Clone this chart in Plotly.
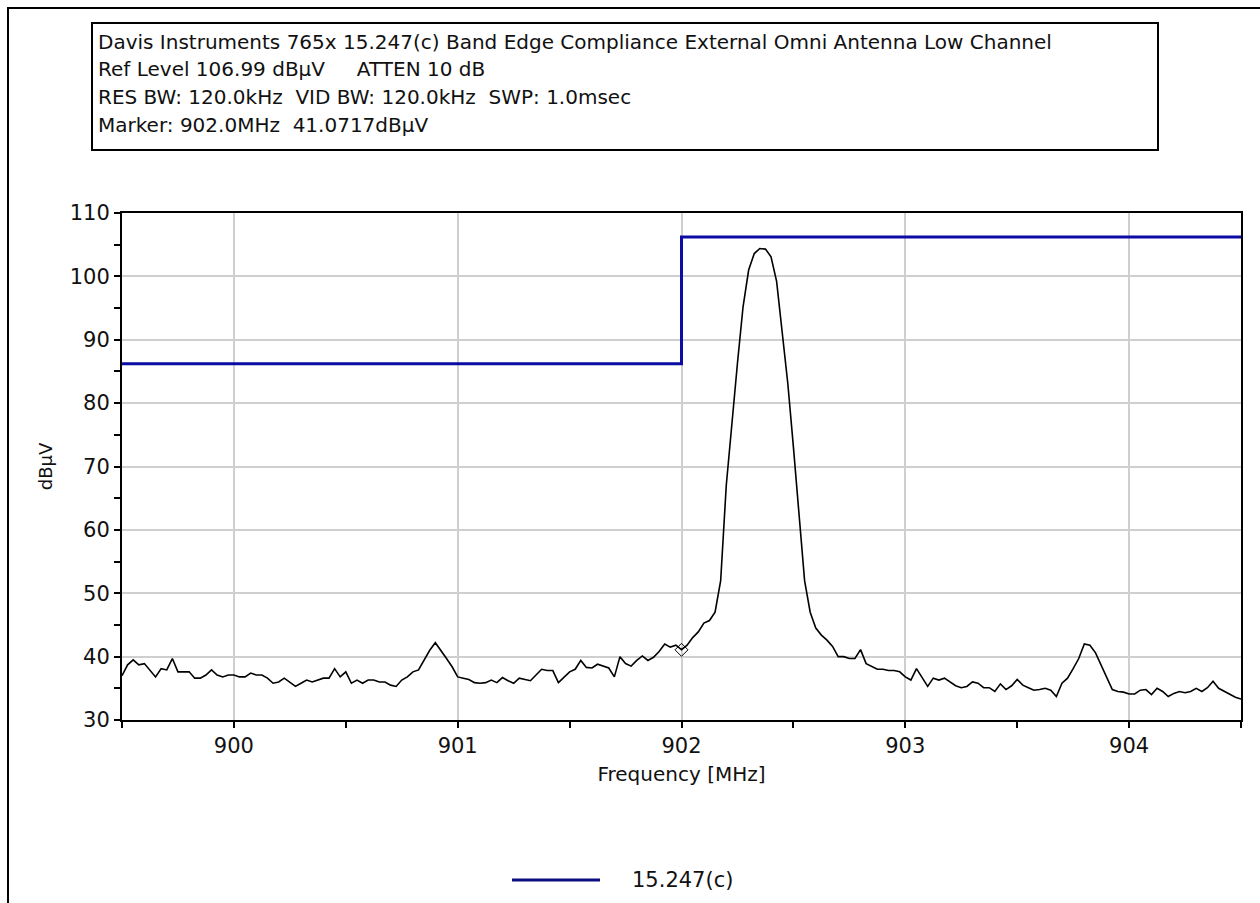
import numpy as np
import plotly.graph_objects as go

# ---------------- data ----------------
title_lines = [
    "Davis Instruments 765x 15.247(c) Band Edge Compliance External Omni Antenna Low Channel",
    "Ref Level 106.99 dBµV     ATTEN 10 dB",
    "RES BW: 120.0kHz  VID BW: 120.0kHz  SWP: 1.0msec",
    "Marker: 902.0MHz  41.0717dBµV",
]
x_title = "Frequency [MHz]"
y_title = "dBµV"
legend_name = "15.247(c)"

f_start, f_stop = 899.5, 904.5

# measured sweep (dBµV), 0.025 MHz spacing from 899.5 to 904.5
trace_vals = [
    37.0, 38.7, 39.5, 38.7, 38.9, 37.9, 36.8, 38.1, 37.9, 39.7,
    37.6, 37.6, 37.6, 36.6, 36.6, 37.1, 37.9, 37.1, 36.8, 37.1,
    37.1, 36.8, 36.8, 37.4, 37.1, 37.1, 36.6, 35.8, 36.0, 36.6,
    36.0, 35.3, 35.8, 36.3, 36.0, 36.3, 36.6, 36.6, 38.1, 36.8,
    37.6, 35.8, 36.3, 35.8, 36.3, 36.3, 36.0, 36.0, 35.5, 35.3,
    36.3, 36.8, 37.6, 37.9, 39.5, 41.0, 42.2, 41.0, 39.7, 38.4,
    36.8, 36.6, 36.4, 35.9, 35.8, 35.9, 36.3, 35.9, 36.7, 36.2,
    35.8, 36.6, 36.4, 36.2, 37.1, 38.0, 37.8, 37.8, 35.9, 36.8,
    37.6, 38.0, 39.4, 38.3, 38.2, 38.8, 38.5, 38.2, 36.8, 40.0,
    38.9, 38.5, 39.4, 40.1, 39.4, 39.9, 40.8, 42.0, 41.5, 41.8,
    41.1, 41.8, 43.0, 43.9, 45.3, 45.7, 47.0, 52.0, 67.0, 77.3,
    86.3, 95.2, 101.0, 103.6, 104.4, 104.3, 103.1, 99.2, 91.5, 83.1,
    73.1, 63.1, 52.0, 47.0, 44.5, 43.4, 42.6, 41.6, 40.0, 40.0,
    39.7, 39.7, 41.1, 38.9, 38.5, 38.0, 38.0, 37.8, 37.8, 37.6,
    36.8, 36.3, 38.1, 36.6, 35.3, 36.6, 36.3, 36.6, 36.0, 35.4,
    35.1, 35.3, 36.0, 35.8, 35.1, 35.1, 34.5, 35.7, 34.8, 35.4,
    36.4, 35.5, 35.1, 34.7, 34.8, 35.0, 34.7, 33.7, 35.8, 36.6,
    38.1, 39.7, 42.0, 41.8, 40.6, 38.7, 36.6, 34.8, 34.5, 34.4,
    34.1, 34.1, 34.7, 34.8, 34.0, 35.0, 34.5, 33.7, 34.2, 34.5,
    34.3, 34.5, 35.0, 34.5, 35.1, 36.1, 35.0, 34.5, 34.0, 33.6,
    33.3,
]
freqs = np.linspace(f_start, f_stop, len(trace_vals))

# 15.247(c) limit line
limit_f = [899.5, 902.0, 902.0, 904.5]
limit_v = [86.2, 86.2, 106.2, 106.2]

marker_f = [902.0]
marker_v = [41.0717]

x_range = [899.5, 904.5]
y_range = [30, 110]

# ---------------- figure ----------------
FONT = "DejaVu Sans"
L, R, T, B = 122, 19, 213, 183
W, H = 1260, 903
PW, PH = W - L - R, H - T - B


def px(xp):
    return (xp - L) / PW


def py(yp):
    return (H - B - yp) / PH


fig = go.Figure()
fig.add_trace(go.Scatter(x=limit_f, y=limit_v, mode="lines",
                         line=dict(color="#0b0ba6", width=3),
                         name=legend_name, showlegend=False))
fig.add_trace(go.Scatter(x=freqs, y=trace_vals, mode="lines",
                         line=dict(color="black", width=1.6),
                         name="trace", showlegend=False))
fig.add_trace(go.Scatter(x=marker_f, y=marker_v, mode="markers",
                         marker=dict(symbol="diamond-open", size=10,
                                     color="black", line=dict(width=1)),
                         showlegend=False))

axis_common = dict(showline=True, linecolor="black", linewidth=2, mirror=True,
                   showgrid=True, gridcolor="#cfcfcf", gridwidth=2,
                   zeroline=False, ticks="outside", ticklen=6, tickwidth=2,
                   tickcolor="black",
                   tickfont=dict(family=FONT, size=21, color="#111111"))

fig.update_layout(
    width=W, height=H,
    margin=dict(l=L, r=R, t=T, b=B),
    paper_bgcolor="white", plot_bgcolor="white",
    showlegend=False,
    xaxis=dict(range=x_range, tick0=900, dtick=1,
               minor=dict(dtick=0.5, ticks="outside", ticklen=6,
                          tickwidth=2, tickcolor="black", showgrid=False),
               title=dict(text=x_title, standoff=10,
                          font=dict(family=FONT, size=20, color="#111111")),
               **axis_common),
    yaxis=dict(range=y_range, tick0=30, dtick=10,
               minor=dict(dtick=5, ticks="outside", ticklen=6,
                          tickwidth=2, tickcolor="black", showgrid=False),
               title=dict(text=y_title, standoff=12,
                          font=dict(family=FONT, size=18, color="#111111")),
               **axis_common),
    xaxis2=dict(range=x_range, overlaying="x", anchor="y", side="bottom",
                showgrid=False, showline=False, zeroline=False,
                showticklabels=False, tick0=900, dtick=0.5, ticks="inside",
                ticklen=5, tickwidth=2, tickcolor="black"),
    yaxis2=dict(range=y_range, overlaying="y", anchor="x", side="left",
                showgrid=False, showline=False, zeroline=False,
                showticklabels=False, tick0=30, dtick=5, ticks="inside",
                ticklen=5, tickwidth=2, tickcolor="black"),
)

shapes = [
    # outer frame
    dict(type="rect", xref="paper", yref="paper",
         x0=px(8), x1=px(1320), y0=py(8), y1=py(960),
         line=dict(color="black", width=2), fillcolor="rgba(0,0,0,0)"),
    # header box
    dict(type="rect", xref="paper", yref="paper",
         x0=px(92), x1=px(1158), y0=py(150), y1=py(23),
         line=dict(color="black", width=2), fillcolor="white"),
    # legend sample line
    dict(type="line", xref="paper", yref="paper",
         x0=px(512), x1=px(600), y0=py(880), y1=py(880),
         line=dict(color="#0b0b80", width=3)),
]
fig.update_layout(shapes=shapes)

annotations = []
for txt, yy in zip(title_lines, [42, 69, 97, 125]):
    annotations.append(dict(text=txt, xref="paper", yref="paper",
                            x=px(96), y=py(yy), xanchor="left", yanchor="middle",
                            showarrow=False,
                            font=dict(family=FONT, size=20, color="#111111")))
annotations.append(dict(text=legend_name, xref="paper", yref="paper",
                        x=px(630), y=py(880), xanchor="left", yanchor="middle",
                        showarrow=False,
                        font=dict(family=FONT, size=21, color="#111111")))
fig.update_layout(annotations=annotations)

fig.write_html("out.html")
